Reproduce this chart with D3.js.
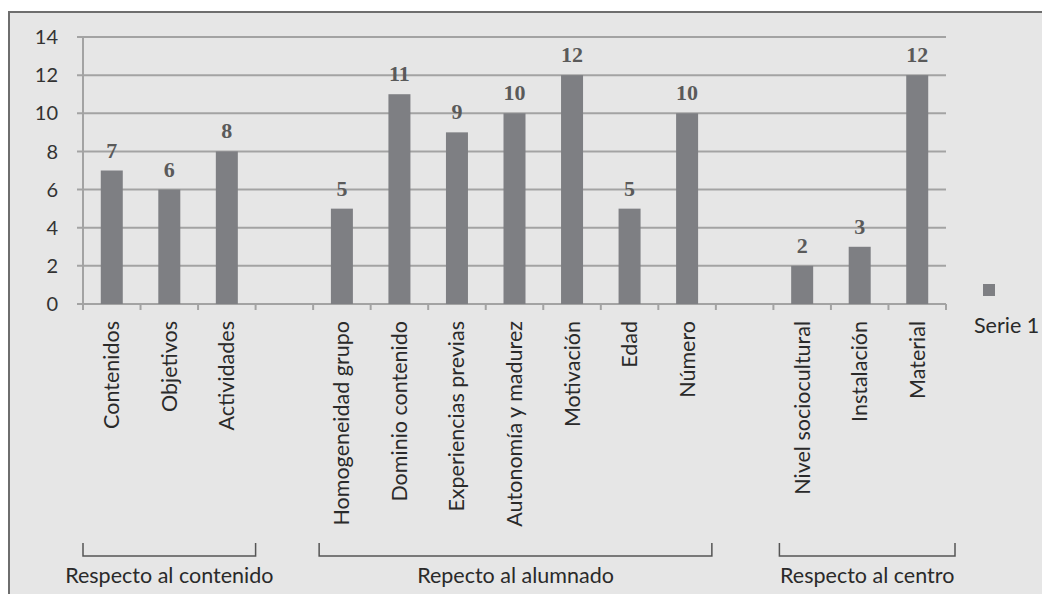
<!DOCTYPE html>
<html>
<head>
<meta charset="utf-8">
<script src="https://cdn.jsdelivr.net/npm/d3@7"></script>
<style>
  body { margin: 0; background: #fff; }
  svg { display: block; }
</style>
</head>
<body>
<svg id="chart" width="1042" height="594"></svg>
<script>
// categorias (vacio = hueco entre grupos)
let categories = ["Contenidos","Objetivos","Actividades","",
  "Homogeneidad grupo","Dominio contenido","Experiencias previas","Autonomía y madurez","Motivación","Edad","Número","",
  "Nivel sociocultural","Instalación","Material"];
let values = [7,6,8,null,5,11,9,10,12,5,10,null,2,3,12];
let yTicks = [0,2,4,6,8,10,12,14];
let groupLabels = ["Respecto al contenido","Repecto al alumnado","Respecto al centro"];
let groupStart = [0,4,12];
let groupEnd = [2,10,14];
let seriesName = "Serie 1";

let svg = d3.select('#chart');
let barColor = '#7e7f83';
let gridColor = '#a3a3a3';
let sans = 'Lato, "Liberation Sans", sans-serif';

// marco
svg.append('rect')
  .attr('x', 9).attr('y', 12)
  .attr('width', 1100).attr('height', 700)
  .attr('fill', '#e6e6e6')
  .attr('stroke', '#6e6e6e')
  .attr('stroke-width', 2);

let x = d3.scaleBand()
  .domain(d3.range(categories.length))
  .range([83, 946])
  .paddingInner(0).paddingOuter(0);

let y = d3.scaleLinear().domain([0,14]).range([304, 37]);

let bw = x.bandwidth();
let barW = 22;

// lineas de cuadricula
svg.append('g').selectAll('line')
  .data(yTicks)
  .enter()
  .append('line')
  .attr('x1', 77).attr('x2', 946)
  .attr('y1', d => y(d)).attr('y2', d => y(d))
  .attr('stroke', gridColor)
  .attr('stroke-width', 2);

// eje y
svg.append('line')
  .attr('x1', 83).attr('x2', 83)
  .attr('y1', y(14)).attr('y2', y(0))
  .attr('stroke', gridColor).attr('stroke-width', 2);

svg.append('g').selectAll('text')
  .data(yTicks)
  .enter()
  .append('text')
  .attr('x', 58)
  .attr('y', d => y(d))
  .attr('dy', '0.36em')
  .attr('text-anchor', 'end')
  .attr('font-family', sans)
  .attr('font-size', 20)
  .attr('fill', '#333')
  .text(d => d);

// marcas del eje x
let bounds = d3.range(categories.length + 1).map(i => i < categories.length ? x(i) : x.range()[1]);
svg.append('g').selectAll('line')
  .data(bounds)
  .enter()
  .append('line')
  .attr('x1', d => d).attr('x2', d => d)
  .attr('y1', y(0)).attr('y2', y(0) + 6)
  .attr('stroke', gridColor).attr('stroke-width', 2);

// barras
svg.append('g').selectAll('rect')
  .data(values.map((v, i) => ({v: v, i: i})).filter(d => d.v !== null))
  .enter()
  .append('rect')
  .attr('x', d => x(d.i) + bw / 2 - barW / 2)
  .attr('width', barW)
  .attr('y', d => y(d.v))
  .attr('height', d => y(0) - y(d.v))
  .attr('fill', barColor);

// etiquetas de valor
svg.append('g').selectAll('text')
  .data(values.map((v, i) => ({v: v, i: i})).filter(d => d.v !== null))
  .enter()
  .append('text')
  .attr('x', d => x(d.i) + bw / 2)
  .attr('y', d => y(d.v) - 13)
  .attr('text-anchor', 'middle')
  .attr('font-family', '"Liberation Serif", serif')
  .attr('font-weight', 'bold')
  .attr('font-size', 22)
  .attr('fill', '#5a5a5a')
  .text(d => d.v);

// etiquetas de categoria
svg.append('g').selectAll('text')
  .data(categories.map((c, i) => ({c: c, i: i})).filter(d => d.c !== ''))
  .enter()
  .append('text')
  .attr('transform', d => 'translate(' + (x(d.i) + bw / 2) + ',321) rotate(-90)')
  .attr('dy', '0.35em')
  .attr('text-anchor', 'end')
  .attr('font-family', sans)
  .attr('font-size', 21.5)
  .attr('fill', '#2a2a2a')
  .text(d => d.c);

// corchetes de grupo
groupLabels.forEach((g, k) => {
  let x0 = x(groupStart[k]) + (k > 0 ? 6 : 0);
  let x1 = x(groupEnd[k]) + bw + (k === 2 ? 9 : (k === 1 ? -4 : 0));
  svg.append('path')
    .attr('d', 'M' + x0 + ',543V556H' + x1 + 'V543')
    .attr('fill', 'none')
    .attr('stroke', '#555')
    .attr('stroke-width', 1.5);
  svg.append('text')
    .attr('x', (x0 + x1) / 2)
    .attr('y', 583)
    .attr('text-anchor', 'middle')
    .attr('font-family', sans)
    .attr('font-size', 21.5)
    .attr('fill', '#2a2a2a')
    .text(g);
});

// leyenda
svg.append('rect')
  .attr('x', 983).attr('y', 284)
  .attr('width', 12).attr('height', 12)
  .attr('fill', barColor);
svg.append('text')
  .attr('x', 974).attr('y', 333)
  .attr('font-family', sans)
  .attr('font-size', 21.5)
  .attr('fill', '#2a2a2a')
  .text(seriesName);
</script>
</body>
</html>
